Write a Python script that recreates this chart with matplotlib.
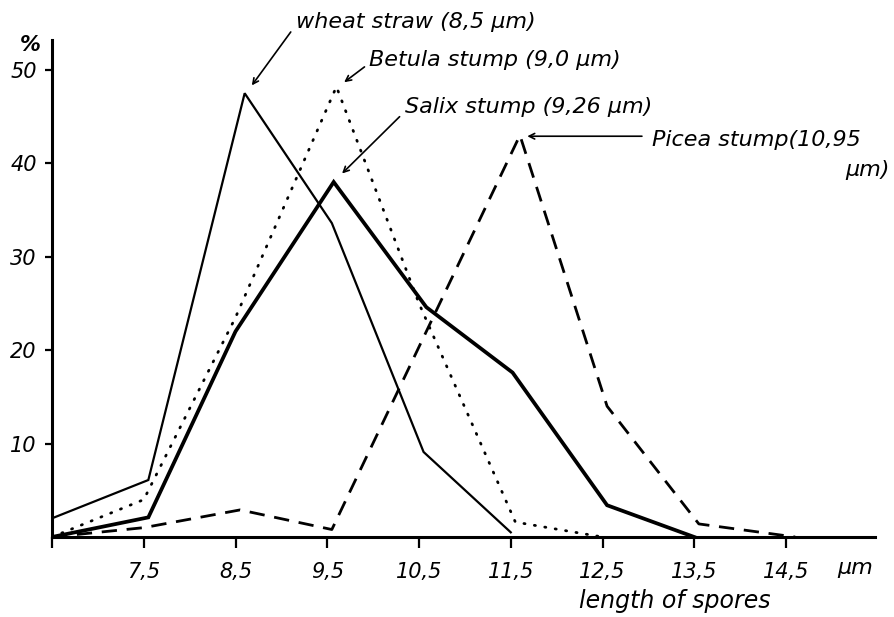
import matplotlib
matplotlib.use("Agg")
import matplotlib.pyplot as plt

# spore length distributions (% of spores per length class)
wheat_x = [6.5, 7.55, 8.6, 9.55, 10.55, 11.5]
wheat_y = [2.0, 6.1, 47.5, 33.6, 9.1, 0.5]

betula_x = [6.5, 7.5, 8.5, 9.6, 10.5, 11.55, 12.5]
betula_y = [0.0, 4.0, 23.5, 48.2, 25.0, 1.6, 0.0]

salix_x = [6.5, 7.55, 8.5, 9.57, 10.58, 11.52, 12.55, 13.5]
salix_y = [0.0, 2.1, 22.0, 38.0, 24.6, 17.6, 3.4, 0.0]

picea_x = [6.5, 7.5, 8.55, 9.55, 11.6, 12.55, 13.55, 14.6]
picea_y = [0.0, 1.0, 2.9, 0.8, 43.0, 14.0, 1.4, 0.0]

xticks = [6.5, 7.5, 8.5, 9.5, 10.5, 11.5, 12.5, 13.5, 14.5]
xtick_labels = ["", "7,5", "8,5", "9,5", "10,5", "11,5", "12,5", "13,5", "14,5"]
yticks = [10, 20, 30, 40, 50]
ytick_labels = ["10", "20", "30", "40", "50"]

plt.rcParams["font.family"] = ["DejaVu Sans"]
plt.rcParams["font.style"] = "italic"

fig = plt.figure(figsize=(8.95, 6.17), dpi=100)
ax = fig.add_axes([52 / 895, 80 / 617, 823 / 895, 497 / 617])

ax.plot(wheat_x, wheat_y, color="black", lw=1.6, solid_joinstyle="miter")
ax.plot(betula_x, betula_y, color="black", lw=2.0, linestyle=(0, (0.4, 3.4)),
        dash_capstyle="round")
ax.plot(salix_x, salix_y, color="black", lw=2.7, solid_joinstyle="miter")
ax.plot(picea_x, picea_y, color="black", lw=2.0, linestyle=(0, (5.5, 3.5)))

ax.set_xlim(6.5, 15.47)
ax.set_ylim(0, 53.2)
ax.spines["top"].set_visible(False)
ax.spines["right"].set_visible(False)
ax.spines["left"].set_linewidth(2.2)
ax.spines["bottom"].set_linewidth(2.2)

ax.set_xticks(xticks)
ax.set_xticklabels(xtick_labels, fontsize=15, style="italic")
ax.set_yticks(yticks)
ax.set_yticklabels(ytick_labels, fontsize=15, style="italic")
ax.tick_params(axis="x", direction="out", length=8, width=1.6, pad=10)
ax.tick_params(axis="y", direction="out", length=5, width=1.6, pad=6)

fig.text(30 / 895, 1 - 45 / 617, "%", fontsize=15, fontweight="bold",
         ha="center", va="center")
fig.text(855 / 895, 1 - 568 / 617, "µm", fontsize=16, ha="center", va="center")
fig.text(675 / 895, 1 - 601 / 617, "length of spores", fontsize=17,
         ha="center", va="center")

arrow = dict(arrowstyle="->", color="black", lw=1.2)
ax.annotate("", xy=(8.66, 48.1), xytext=(9.12, 54.3), arrowprops=arrow,
            annotation_clip=False)
ax.annotate("", xy=(9.66, 48.5), xytext=(9.93, 50.5), arrowprops=arrow,
            annotation_clip=False)
ax.annotate("", xy=(9.64, 38.7), xytext=(10.31, 45.2), arrowprops=arrow,
            annotation_clip=False)
ax.annotate("", xy=(11.65, 42.9), xytext=(12.96, 42.9), arrowprops=arrow,
            annotation_clip=False)

txt = dict(fontsize=16, ha="left", va="center", clip_on=False)
ax.text(9.16, 55.1, "wheat straw (8,5 µm)", **txt)
ax.text(9.96, 51.1, "Betula stump (9,0 µm)", **txt)
ax.text(10.35, 46.0, "Salix stump (9,26 µm)", **txt)
ax.text(13.04, 42.5, "Picea stump(10,95", **txt)
ax.text(15.63, 39.3, "µm)", fontsize=16, ha="right", va="center", clip_on=False)

fig.savefig("out.png", dpi=100)
